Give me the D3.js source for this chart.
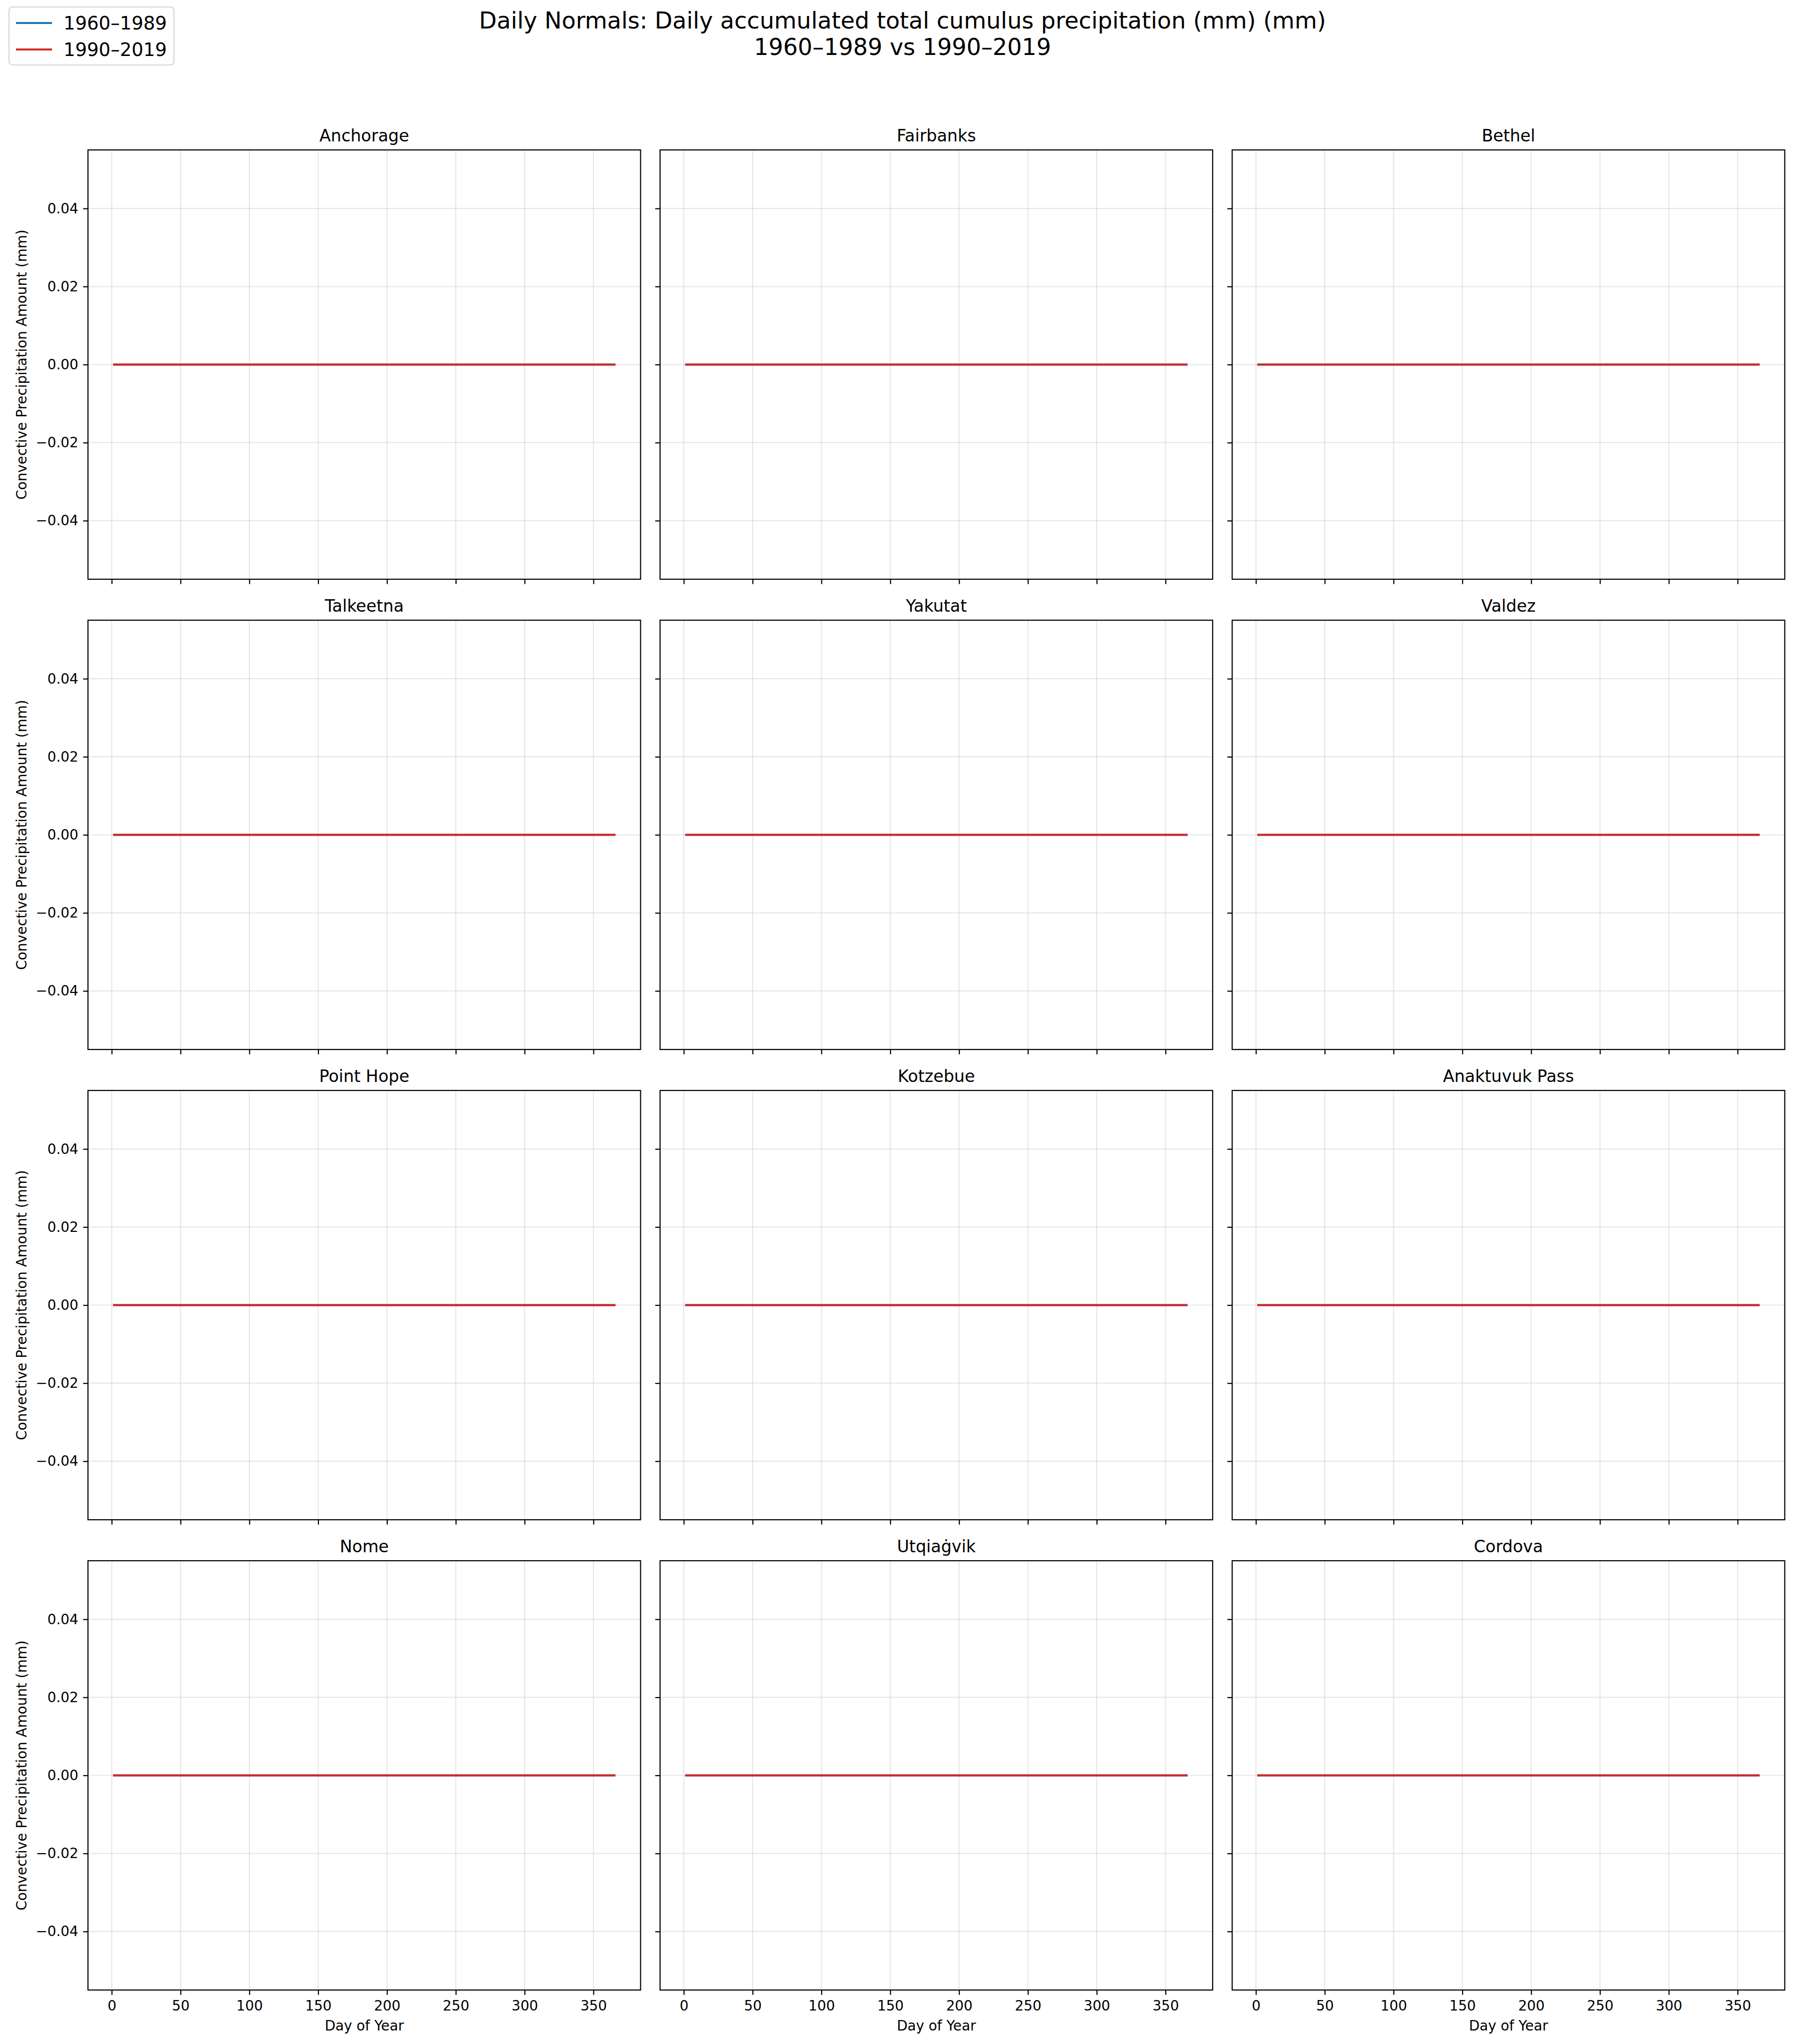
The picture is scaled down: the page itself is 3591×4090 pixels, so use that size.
<!DOCTYPE html>
<html><head><meta charset="utf-8">
<script src="https://cdn.jsdelivr.net/npm/d3@7"></script>
<style>body{margin:0;background:#fff}svg{display:block}text{font-family:"DejaVu Sans",sans-serif;fill:#000}</style>
</head><body>
<script>
// ---------- data ----------
const stations = ["Anchorage","Fairbanks","Bethel","Talkeetna","Yakutat","Valdez","Point Hope","Kotzebue","Anaktuvuk Pass","Nome","Utqiaġvik","Cordova"];
const periods = ["1960–1989","1990–2019"];
const periodColors = ["#1f77b4","#d62728"];
const days = d3.range(1, 367);
// daily normals (mm): flat at 0 for every station and both periods
const normals1960_1989 = [
0,0,0,0,0,0,0,0,0,0, 0,0,0,0,0,0,0,0,0,0, 0,0,0,0,0,0,0,0,0,0,
0,0,0,0,0,0,0,0,0,0, 0,0,0,0,0,0,0,0,0,0, 0,0,0,0,0,0,0,0,0,0,
0,0,0,0,0,0,0,0,0,0, 0,0,0,0,0,0,0,0,0,0, 0,0,0,0,0,0,0,0,0,0,
0,0,0,0,0,0,0,0,0,0, 0,0,0,0,0,0,0,0,0,0, 0,0,0,0,0,0,0,0,0,0,
0,0,0,0,0,0,0,0,0,0, 0,0,0,0,0,0,0,0,0,0, 0,0,0,0,0,0,0,0,0,0,
0,0,0,0,0,0,0,0,0,0, 0,0,0,0,0,0,0,0,0,0, 0,0,0,0,0,0,0,0,0,0,
0,0,0,0,0,0,0,0,0,0, 0,0,0,0,0,0,0,0,0,0, 0,0,0,0,0,0,0,0,0,0,
0,0,0,0,0,0,0,0,0,0, 0,0,0,0,0,0,0,0,0,0, 0,0,0,0,0,0,0,0,0,0,
0,0,0,0,0,0,0,0,0,0, 0,0,0,0,0,0,0,0,0,0, 0,0,0,0,0,0,0,0,0,0,
0,0,0,0,0,0,0,0,0,0, 0,0,0,0,0,0,0,0,0,0, 0,0,0,0,0,0,0,0,0,0,
0,0,0,0,0,0,0,0,0,0, 0,0,0,0,0,0,0,0,0,0, 0,0,0,0,0,0,0,0,0,0,
0,0,0,0,0,0,0,0,0,0, 0,0,0,0,0,0,0,0,0,0, 0,0,0,0,0,0,0,0,0,0,
0,0,0,0,0,0
];
const normals1990_2019 = [
0,0,0,0,0,0,0,0,0,0, 0,0,0,0,0,0,0,0,0,0, 0,0,0,0,0,0,0,0,0,0,
0,0,0,0,0,0,0,0,0,0, 0,0,0,0,0,0,0,0,0,0, 0,0,0,0,0,0,0,0,0,0,
0,0,0,0,0,0,0,0,0,0, 0,0,0,0,0,0,0,0,0,0, 0,0,0,0,0,0,0,0,0,0,
0,0,0,0,0,0,0,0,0,0, 0,0,0,0,0,0,0,0,0,0, 0,0,0,0,0,0,0,0,0,0,
0,0,0,0,0,0,0,0,0,0, 0,0,0,0,0,0,0,0,0,0, 0,0,0,0,0,0,0,0,0,0,
0,0,0,0,0,0,0,0,0,0, 0,0,0,0,0,0,0,0,0,0, 0,0,0,0,0,0,0,0,0,0,
0,0,0,0,0,0,0,0,0,0, 0,0,0,0,0,0,0,0,0,0, 0,0,0,0,0,0,0,0,0,0,
0,0,0,0,0,0,0,0,0,0, 0,0,0,0,0,0,0,0,0,0, 0,0,0,0,0,0,0,0,0,0,
0,0,0,0,0,0,0,0,0,0, 0,0,0,0,0,0,0,0,0,0, 0,0,0,0,0,0,0,0,0,0,
0,0,0,0,0,0,0,0,0,0, 0,0,0,0,0,0,0,0,0,0, 0,0,0,0,0,0,0,0,0,0,
0,0,0,0,0,0,0,0,0,0, 0,0,0,0,0,0,0,0,0,0, 0,0,0,0,0,0,0,0,0,0,
0,0,0,0,0,0,0,0,0,0, 0,0,0,0,0,0,0,0,0,0, 0,0,0,0,0,0,0,0,0,0,
0,0,0,0,0,0
];
const seriesByPeriod = [normals1960_1989, normals1990_2019];
const xTicks = [0,50,100,150,200,250,300,350];
const yTicks = [-0.04,-0.02,0,0.02,0.04];
const titleLines = ["Daily Normals: Daily accumulated total cumulus precipitation (mm) (mm)", "1960–1989 vs 1990–2019"];
const xLabel = "Day of Year";
const yLabel = "Convective Precipitation Amount (mm)";

// ---------- layout ----------
const W = 3591, H = 4090;
const nCols = 3, nRows = 4;
const left0 = 176, colPitch = 1144.5, panelW = 1105.5;
const top0 = 300, rowPitch = 941, panelH = 859;
const fTick = 27.8, fTitle = 33.3, fSup = 46, fLeg = 37;
const tickLen = 9.7, tickPad = 9.7, lw = 2.2;

const svg = d3.select("body").append("svg").attr("width", W).attr("height", H);
svg.append("rect").attr("width", W).attr("height", H).attr("fill", "#fff");

// suptitle
svg.append("g").selectAll("text").data(titleLines).join("text")
  .attr("x", W / 2 + 10).attr("y", (d, i) => 57 + i * 53)
  .attr("text-anchor", "middle").attr("font-size", fSup).text(d => d);

const xExt = d3.extent(days), xPad = (xExt[1] - xExt[0]) * 0.05;
const x = d3.scaleLinear().domain([xExt[0] - xPad, xExt[1] + xPad]).range([0, panelW]);
const allVals = seriesByPeriod.flat();
let yExt = d3.extent(allVals);
if (yExt[0] === yExt[1]) yExt = [yExt[0] - 0.05, yExt[1] + 0.05];
const yPad = (yExt[1] - yExt[0]) * 0.05;
const y = d3.scaleLinear().domain([yExt[0] - yPad, yExt[1] + yPad]).range([panelH, 0]);
const yFmt = d3.format(".2f");
const line = d3.line().x(d => x(d[0])).y(d => y(d[1]));

stations.forEach((name, k) => {
  const c = k % nCols, r = Math.floor(k / nCols);
  const g = svg.append("g").attr("transform", `translate(${left0 + c * colPitch},${top0 + r * rowPitch})`);
  // grid
  g.append("g").selectAll("line").data(xTicks).join("line")
    .attr("x1", d => x(d)).attr("x2", d => x(d)).attr("y1", 0).attr("y2", panelH)
    .attr("stroke", "#b0b0b0").attr("stroke-opacity", 0.3).attr("stroke-width", lw);
  g.append("g").selectAll("line").data(yTicks).join("line")
    .attr("y1", d => y(d)).attr("y2", d => y(d)).attr("x1", 0).attr("x2", panelW)
    .attr("stroke", "#b0b0b0").attr("stroke-opacity", 0.3).attr("stroke-width", lw);
  // series
  seriesByPeriod.forEach((vals, p) => {
    g.append("path").datum(d3.zip(days, vals)).attr("d", line)
      .attr("fill", "none").attr("stroke", periodColors[p]).attr("stroke-width", 4.2);
  });
  // axes
  const xa = d3.axisBottom(x).tickValues(xTicks).tickSize(tickLen).tickPadding(tickPad).tickSizeOuter(0)
    .tickFormat(r === nRows - 1 ? d3.format("d") : () => "");
  const gx = g.append("g").attr("transform", `translate(0,${panelH})`).call(xa);
  const ya = d3.axisLeft(y).tickValues(yTicks).tickSize(tickLen).tickPadding(tickPad).tickSizeOuter(0)
    .tickFormat(c === 0 ? yFmt : () => "");
  const gy = g.append("g").call(ya);
  [gx, gy].forEach(a => {
    a.select(".domain").remove();
    a.selectAll(".tick line").attr("stroke", "#000").attr("stroke-width", lw);
    a.selectAll("text").attr("font-size", fTick).attr("font-family", '"DejaVu Sans",sans-serif').attr("fill", "#000");
  });
  gx.selectAll("text").attr("dy", "0.76em");
  // spines
  g.append("rect").attr("width", panelW).attr("height", panelH)
    .attr("fill", "none").attr("stroke", "#000").attr("stroke-width", lw);
  // subplot title
  g.append("text").attr("x", panelW / 2).attr("y", -17).attr("text-anchor", "middle")
    .attr("font-size", fTitle).text(name);
  if (r === nRows - 1) {
    g.append("text").attr("x", panelW / 2).attr("y", panelH + 81).attr("text-anchor", "middle")
      .attr("font-size", fTick).text(xLabel);
  }
  if (c === 0) {
    g.append("text").attr("transform", `translate(${53 - left0},${panelH / 2}) rotate(-90)`)
      .attr("text-anchor", "middle").attr("font-size", fTick).text(yLabel);
  }
});

// legend
const leg = svg.append("g");
leg.append("rect").attr("x", 18).attr("y", 14).attr("width", 330).attr("height", 116).attr("rx", 7)
  .attr("fill", "#fff").attr("fill-opacity", 0.8).attr("stroke", "#d6d6d6").attr("stroke-width", 2.2);
periods.forEach((p, i) => {
  const cy = 46 + i * 53;
  leg.append("line").attr("x1", 32).attr("x2", 104).attr("y1", cy).attr("y2", cy)
    .attr("stroke", periodColors[i]).attr("stroke-width", 4.2);
  leg.append("text").attr("x", 127).attr("y", cy + 13).attr("font-size", fLeg).text(p);
});
</script>
</body></html>
